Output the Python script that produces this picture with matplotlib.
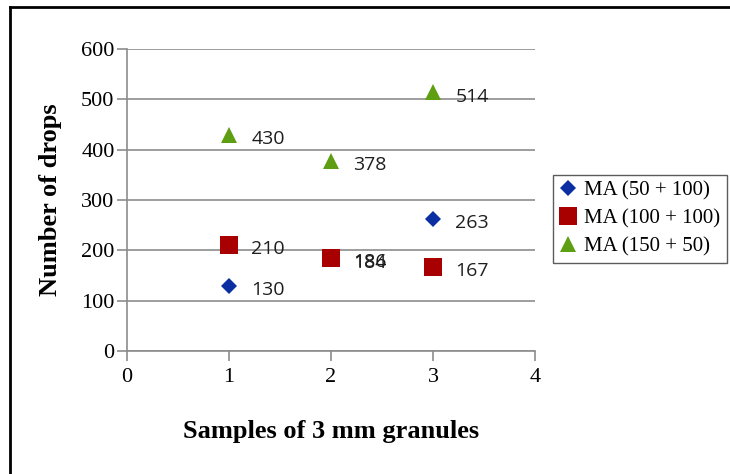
import matplotlib
matplotlib.use("Agg")
import matplotlib.pyplot as plt
from matplotlib.lines import Line2D

samples = [1, 2, 3]
ma_50_100 = [130, 186, 263]
ma_100_100 = [210, 184, 167]
ma_150_50 = [430, 378, 514]
series_names = ["MA (50 + 100)", "MA (100 + 100)", "MA (150 + 50)"]
x_ticks = [0, 1, 2, 3, 4]
y_ticks = [0, 100, 200, 300, 400, 500, 600]

fig = plt.figure(figsize=(7.30, 4.74), dpi=100)
ax = fig.add_axes([0.174, 0.2595, 0.559, 0.637])

serif = ["Liberation Serif", "DejaVu Serif"]
grid_col = "#8c8c8c"

styles = [
    dict(marker="D", color="#0b2ea3", ms=8.5, z=3),
    dict(marker="s", color="#a80000", ms=13.5, z=4),
    dict(marker="^", color="#5e9e12", ms=12, z=5),
]
all_series = [ma_50_100, ma_100_100, ma_150_50]

for vals, st, name in zip(all_series, styles, series_names):
    ax.plot(samples, vals, linestyle="none", marker=st["marker"],
            color=st["color"], markersize=st["ms"], markeredgewidth=0,
            label=name, zorder=st["z"])
    for xv, yv in zip(samples, vals):
        ax.annotate(str(yv), (xv, yv), xytext=(16, -3), textcoords="offset points",
                    ha="left", va="center", fontsize=14, color="#1e1e1e",
                    family=["Open Sans", "DejaVu Sans"], zorder=6)

ax.set_xlim(0, 4)
ax.set_ylim(0, 600)
ax.set_xticks(x_ticks)
ax.set_yticks(y_ticks)
ax.yaxis.grid(True, color=grid_col, linewidth=1.2)
ax.set_axisbelow(True)
for s in ["top", "right"]:
    ax.spines[s].set_visible(False)
for s in ["left", "bottom"]:
    ax.spines[s].set_color(grid_col)
    ax.spines[s].set_linewidth(1.2)
ax.tick_params(axis="both", direction="out", length=7, width=1.2, color=grid_col,
               labelsize=16, pad=2)
ax.tick_params(axis="x", pad=5)
for lab in ax.get_xticklabels() + ax.get_yticklabels():
    lab.set_family(serif)

ax.set_xlabel("Samples of 3 mm granules", fontsize=19, fontweight="bold",
              family=serif, labelpad=24)
ax.set_ylabel("Number of drops", fontsize=19, fontweight="bold",
              family=serif, labelpad=14)

leg = fig.legend(loc="upper left", bbox_to_anchor=(0.7575, 0.631),
                 prop={"family": serif, "size": 15}, frameon=True,
                 fancybox=False, edgecolor="#333333", borderpad=0.3,
                 handlelength=0.8, handletextpad=0.4, labelspacing=0.4,
                 borderaxespad=0, markerscale=1.0)
leg.get_frame().set_linewidth(1.0)

# outer frame along the left and top edges
fig.add_artist(Line2D([0.0137, 0.0137], [0.0, 0.986], transform=fig.transFigure,
                      color="black", linewidth=2))
fig.add_artist(Line2D([0.0137, 1.0], [0.986, 0.986], transform=fig.transFigure,
                      color="black", linewidth=2))

fig.savefig("out.png", dpi=100)
